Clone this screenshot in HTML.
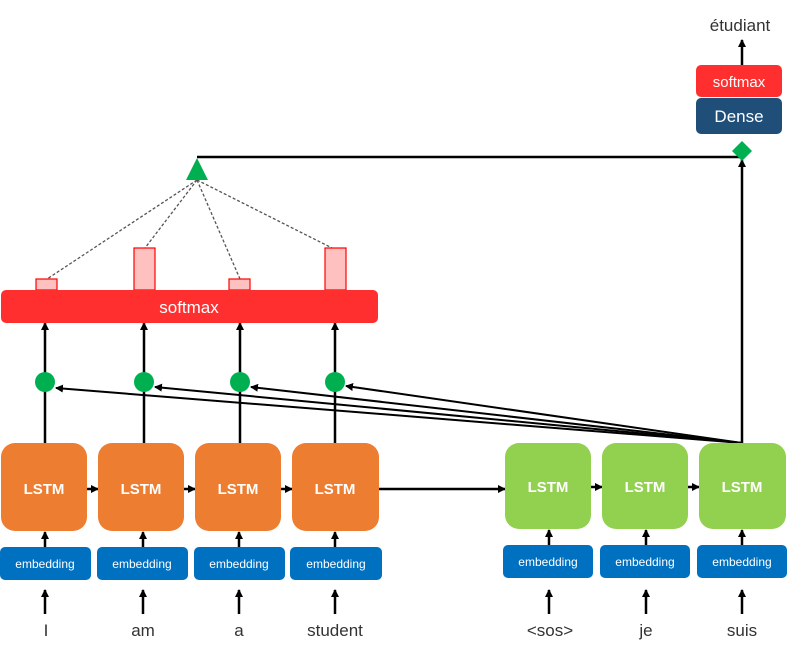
<!DOCTYPE html>
<html><head><meta charset="utf-8"><style>
body{margin:0;background:#fff;width:792px;height:665px;overflow:hidden}
svg text{font-family:"Liberation Sans",sans-serif}
</style></head><body>
<svg width="792" height="665" viewBox="0 0 792 665" xmlns="http://www.w3.org/2000/svg">
<defs><marker id="a" markerWidth="8" markerHeight="8" refX="7" refY="4" orient="auto" markerUnits="userSpaceOnUse"><path d="M0,0 L8,4 L0,8 z" fill="#000"/></marker></defs>
<g stroke="#000" stroke-width="2.5" fill="none">
<!-- word arrows -->
<line x1="45" y1="614" x2="45" y2="590" marker-end="url(#a)"/>
<line x1="143" y1="614" x2="143" y2="590" marker-end="url(#a)"/>
<line x1="239" y1="614" x2="239" y2="590" marker-end="url(#a)"/>
<line x1="335" y1="614" x2="335" y2="590" marker-end="url(#a)"/>
<line x1="549" y1="614" x2="549" y2="590" marker-end="url(#a)"/>
<line x1="646" y1="614" x2="646" y2="590" marker-end="url(#a)"/>
<line x1="742" y1="614" x2="742" y2="590" marker-end="url(#a)"/>
<!-- emb to lstm -->
<line x1="45" y1="547" x2="45" y2="532" marker-end="url(#a)"/>
<line x1="143" y1="547" x2="143" y2="532" marker-end="url(#a)"/>
<line x1="239" y1="547" x2="239" y2="532" marker-end="url(#a)"/>
<line x1="335" y1="547" x2="335" y2="532" marker-end="url(#a)"/>
<line x1="549" y1="545" x2="549" y2="530" marker-end="url(#a)"/>
<line x1="646" y1="545" x2="646" y2="530" marker-end="url(#a)"/>
<line x1="742" y1="545" x2="742" y2="530" marker-end="url(#a)"/>
<!-- horizontal -->
<line x1="87" y1="489" x2="98" y2="489" marker-end="url(#a)"/>
<line x1="184" y1="489" x2="195" y2="489" marker-end="url(#a)"/>
<line x1="281" y1="489" x2="292" y2="489" marker-end="url(#a)"/>
<line x1="379" y1="489" x2="505" y2="489" marker-end="url(#a)"/>
<line x1="591" y1="487" x2="602" y2="487" marker-end="url(#a)"/>
<line x1="688" y1="487" x2="699" y2="487" marker-end="url(#a)"/>
<!-- lstm up to circles/softmax -->
<line x1="45" y1="443" x2="45" y2="323" marker-end="url(#a)"/>
<line x1="144" y1="443" x2="144" y2="323" marker-end="url(#a)"/>
<line x1="240" y1="443" x2="240" y2="323" marker-end="url(#a)"/>
<line x1="335" y1="443" x2="335" y2="323" marker-end="url(#a)"/>
<!-- decoder to circles -->
<line x1="742" y1="443" x2="56" y2="388" marker-end="url(#a)" stroke-width="2"/>
<line x1="742" y1="443" x2="155" y2="387" marker-end="url(#a)" stroke-width="2"/>
<line x1="742" y1="443" x2="251" y2="387" marker-end="url(#a)" stroke-width="2"/>
<line x1="742" y1="443" x2="346" y2="386" marker-end="url(#a)" stroke-width="2"/>
<line x1="742" y1="443" x2="742" y2="160" marker-end="url(#a)"/>
<polyline points="197,157 742,157 742,146" marker-end="url(#a)"/>
<line x1="742" y1="65" x2="742" y2="40" marker-end="url(#a)"/>
</g>
<g stroke="#555" stroke-width="1.3" stroke-dasharray="3,2">
<line x1="197" y1="180" x2="47" y2="279"/>
<line x1="197" y1="180" x2="145" y2="248"/>
<line x1="197" y1="180" x2="240" y2="279"/>
<line x1="197" y1="180" x2="332" y2="248"/>
</g>
<polygon points="197,158 186,180 208,180" fill="#00b050"/>
<polygon points="742,141 752,151 742,161 732,151" fill="#00b050"/>
<g fill="#00b050"><circle cx="45" cy="382" r="10"/><circle cx="144" cy="382" r="10"/><circle cx="240" cy="382" r="10"/><circle cx="335" cy="382" r="10"/></g>
<g fill="#ffc0c0" stroke="#f00" stroke-width="1.2">
<rect x="36" y="279" width="21" height="11"/><rect x="134" y="248" width="21" height="42"/>
<rect x="229" y="279" width="21" height="11"/><rect x="325" y="248" width="21" height="42"/>
</g>
<rect x="1" y="290" width="377" height="33" rx="5" fill="#ff2f2f"/>
<text x="189" y="313" font-size="17" fill="#fff" text-anchor="middle">softmax</text>
<g fill="#ed7d31">
<rect x="1" y="443" width="86" height="88" rx="14"/><rect x="98" y="443" width="86" height="88" rx="14"/>
<rect x="195" y="443" width="86" height="88" rx="14"/><rect x="292" y="443" width="87" height="88" rx="14"/>
</g>
<g fill="#92d050">
<rect x="505" y="443" width="86" height="86" rx="14"/><rect x="602" y="443" width="86" height="86" rx="14"/><rect x="699" y="443" width="87" height="86" rx="14"/>
</g>
<g font-size="15" font-weight="bold" fill="#fff" text-anchor="middle">
<text x="44" y="494">LSTM</text><text x="141" y="494">LSTM</text><text x="238" y="494">LSTM</text><text x="335" y="494">LSTM</text>
<text x="548" y="492">LSTM</text><text x="645" y="492">LSTM</text><text x="742" y="492">LSTM</text>
</g>
<g fill="#0070c0">
<rect x="0" y="547" width="91" height="33" rx="5"/><rect x="97" y="547" width="91" height="33" rx="5"/>
<rect x="194" y="547" width="91" height="33" rx="5"/><rect x="290" y="547" width="92" height="33" rx="5"/>
<rect x="503" y="545" width="90" height="33" rx="5"/><rect x="600" y="545" width="90" height="33" rx="5"/><rect x="697" y="545" width="90" height="33" rx="5"/>
</g>
<g font-size="12" fill="#fff" text-anchor="middle">
<text x="45" y="568">embedding</text><text x="142" y="568">embedding</text><text x="239" y="568">embedding</text><text x="336" y="568">embedding</text>
<text x="548" y="566">embedding</text><text x="645" y="566">embedding</text><text x="742" y="566">embedding</text>
</g>
<g font-size="17" fill="#333" text-anchor="middle">
<text x="46" y="636">I</text><text x="143" y="636">am</text><text x="239" y="636">a</text><text x="335" y="636">student</text>
<text x="550" y="636">&lt;sos&gt;</text><text x="646" y="636">je</text><text x="742" y="636">suis</text>
<text x="740" y="31">étudiant</text>
</g>
<rect x="696" y="65" width="86" height="32" rx="5" fill="#ff2f2f"/>
<text x="739" y="87" font-size="15" fill="#fff" text-anchor="middle">softmax</text>
<rect x="696" y="98" width="86" height="36" rx="5" fill="#1f4e79"/>
<text x="739" y="122" font-size="17" fill="#fff" text-anchor="middle">Dense</text>
</svg>
</body></html>
